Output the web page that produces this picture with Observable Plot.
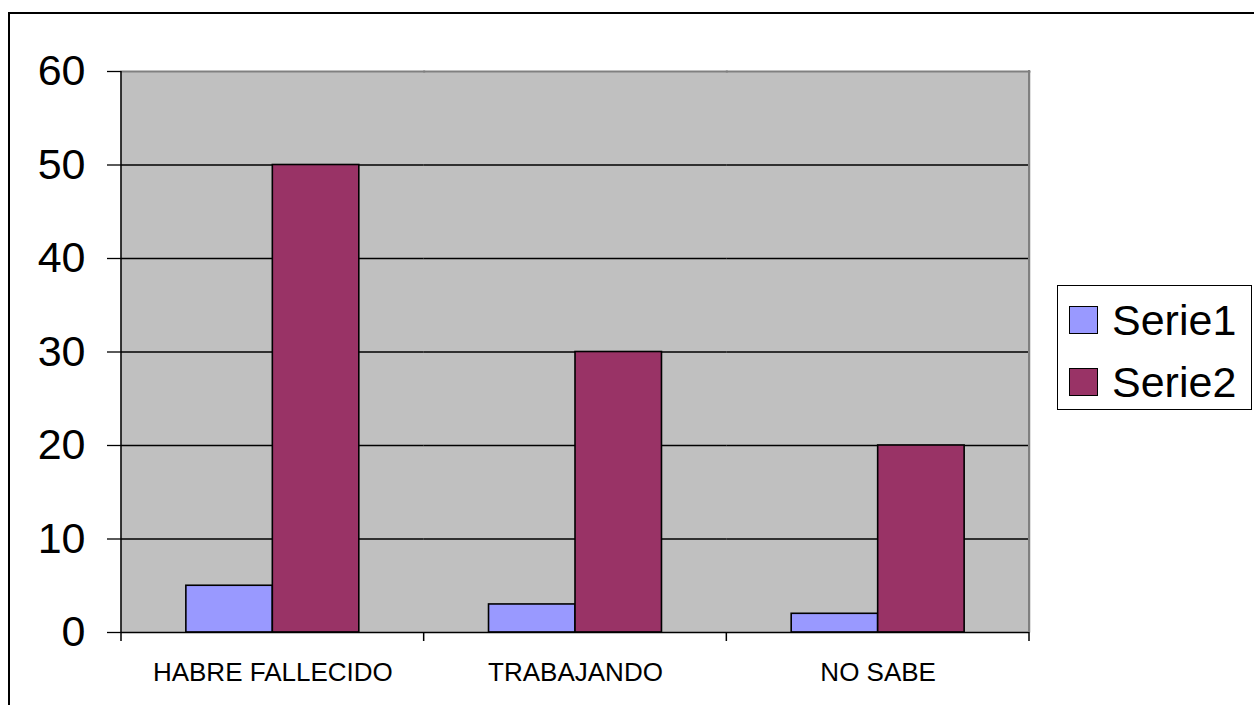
<!DOCTYPE html>
<html>
<head>
<meta charset="utf-8">
<script src="https://cdn.jsdelivr.net/npm/d3@7"></script>
<script src="https://cdn.jsdelivr.net/npm/@observablehq/plot@0.6"></script>
<style>
  html, body { margin: 0; padding: 0; background: #fff; overflow: hidden; }
  #wrap { position: relative; width: 1254px; height: 705px; font-family: "Liberation Sans", Arial, sans-serif; }
  #border { position: absolute; left: 8px; top: 12px; width: 1400px; height: 900px; border: 2px solid #000; box-sizing: border-box; }
  #chart { position: absolute; left: 0; top: 0; }
  #legend { position: absolute; left: 1057px; top: 285px; width: 195px; height: 125px; border: 1.5px solid #000;
            box-sizing: border-box; background: #fff; padding-top: 3px; }
  .row { display: flex; align-items: center; height: 62px; }
  .sw { width: 29px; height: 28px; border: 1.5px solid #000; box-sizing: border-box; margin-left: 11px; margin-right: 14px; }
  .lab { font-size: 43px; line-height: 62px; color: #000; }
</style>
</head>
<body>
<div id="wrap">
  <div id="border"></div>
  <div id="chart"></div>
  <div id="legend"></div>
</div>
<script>
// Categories, series and values
const categories = ["HABRE FALLECIDO", "TRABAJANDO", "NO SABE"];
const seriesNames = ["Serie1", "Serie2"];
const serie1 = [5, 3, 2];
const serie2 = [50, 30, 20];
const yTicks = [0, 10, 20, 30, 40, 50, 60];
const seriesColors = ["#9999FF", "#993366"];

const rows = categories.flatMap((c, i) => [
  {category: c, series: seriesNames[0], value: serie1[i]},
  {category: c, series: seriesNames[1], value: serie2[i]}
]);

const chart = Plot.plot({
  width: 1254,
  height: 705,
  marginLeft: 121,
  marginRight: 225,
  marginTop: 71,
  marginBottom: 73,
  style: {fontFamily: "'Liberation Sans', Arial, sans-serif", background: "transparent", color: "#000"},
  fx: {domain: categories, padding: 0, round: false},
  x: {domain: seriesNames, paddingInner: 0, paddingOuter: 0.75, round: false, axis: null},
  y: {domain: [0, 60]},
  color: {domain: seriesNames, range: seriesColors},
  marks: [
    // grey plot background; slight overlap so adjacent facets leave no seam
    Plot.frame({fill: "#C0C0C0", stroke: null, insetLeft: -1, insetRight: -1}),
    Plot.ruleY(yTicks.filter(t => t > 0 && t < 60), {stroke: "#000", strokeWidth: 1.3}),
    Plot.frame({anchor: "top", stroke: "#808080", strokeWidth: 2}),
    Plot.barY(rows, {fx: "category", x: "series", y: "value", fill: "series", stroke: "#000", strokeWidth: 1.6}),
    Plot.ruleY([0], {stroke: "#000", strokeWidth: 1.5}),
    Plot.axisY({ticks: yTicks, tickSize: 14, tickPadding: 22, fontSize: 43, label: null, strokeWidth: 1.3}),
    Plot.axisFx({anchor: "bottom", tickSize: 0, tickPadding: 30, fontSize: 26, label: null})
  ]
});

document.getElementById("chart").appendChild(chart);

// Plot-area edges and category boundary ticks, placed from the chart's own scales
const fx = chart.scale("fx");
const y = chart.scale("y");
const y0 = y.apply(0), yTop = y.apply(60);
const left = fx.apply(categories[0]);
const right = fx.apply(categories[categories.length - 1]) + fx.bandwidth;
const svg = d3.select(chart);
const g = svg.append("g");
g.append("line").attr("x1", right).attr("x2", right).attr("y1", yTop - 1).attr("y2", y0)
  .attr("stroke", "#808080").attr("stroke-width", 2);
g.append("line").attr("x1", left).attr("x2", left).attr("y1", yTop).attr("y2", y0)
  .attr("stroke", "#000").attr("stroke-width", 1.5);
const bounds = categories.map(c => fx.apply(c)).concat([right]);
g.selectAll("line.b").data(bounds).join("line").attr("class", "b")
  .attr("x1", d => d).attr("x2", d => d).attr("y1", y0).attr("y2", y0 + 9)
  .attr("stroke", "#000").attr("stroke-width", 1.5);

// Legend drawn from the color scale
const color = chart.scale("color");
const legend = d3.select("#legend");
seriesNames.forEach(s => {
  const r = legend.append("div").attr("class", "row");
  r.append("div").attr("class", "sw").style("background", color.apply(s));
  r.append("div").attr("class", "lab").text(s);
});
</script>
</body>
</html>
